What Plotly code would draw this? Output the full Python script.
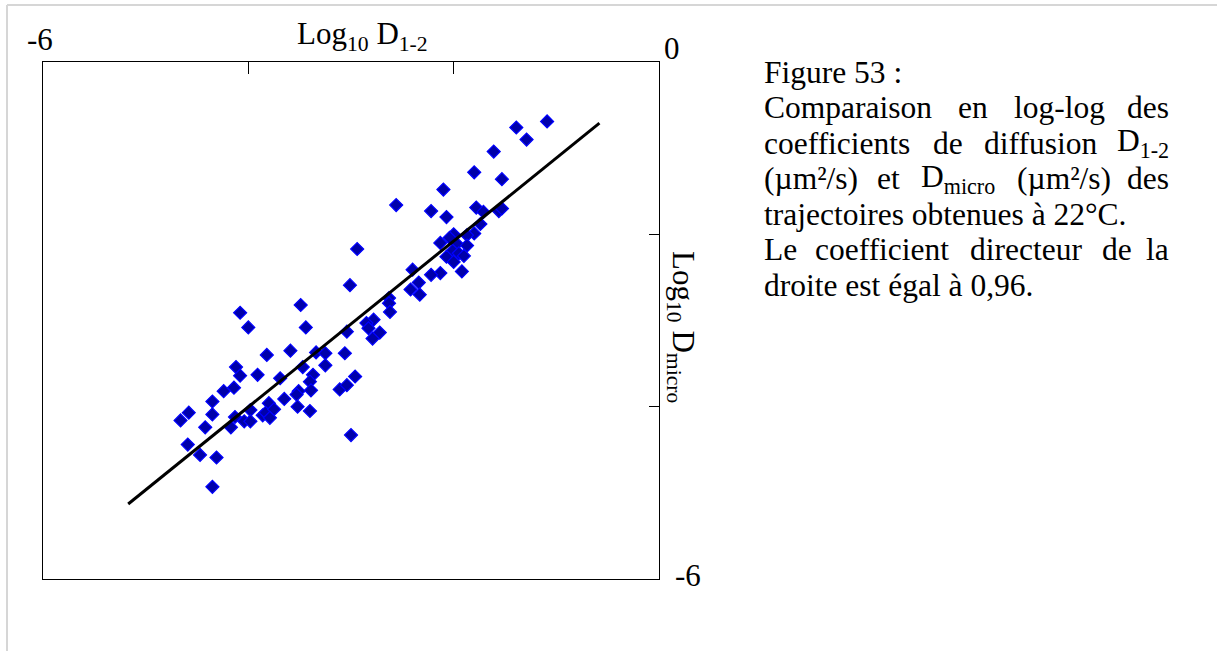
import plotly.graph_objects as go

# ---- data (log10 values) ----
d12 = [-1.09, -1.39, -1.29, -1.61, -1.80, -1.53, -2.10, -2.56, -2.22, -1.78,
       -1.71, -1.56, -1.53, -2.07, -1.74, -1.80, -1.87, -2.00, -2.04, -2.13,
       -1.97, -1.87, -2.01, -1.95, -2.07, -1.90, -2.00, -1.92, -2.13, -2.22,
       -2.40, -2.34, -2.42, -2.33, -2.63, -2.63, -2.62, -2.78, -2.85, -2.83,
       -2.72, -2.79, -2.94, -3.01, -3.04, -3.06, -4.08, -3.49, -4.00, -3.44,
       -3.82, -3.59, -3.34, -3.25, -4.12, -4.08, -3.91, -3.69, -3.47, -3.25,
       -3.37, -3.40, -3.39, -3.51, -3.53, -3.65, -3.52, -3.40, -3.11, -3.04,
       -2.96, -3.00, -4.14, -4.24, -4.35, -4.35, -4.58, -4.66, -4.42, -4.13,
       -4.17, -4.04, -3.98, -3.98, -3.86, -3.83, -3.80, -3.75, -3.79, -4.59,
       -4.47, -4.31, -4.35]
dmicro = [-0.69, -0.76, -0.90, -1.04, -1.28, -1.36, -1.48, -1.66, -1.73, -1.69,
          -1.74, -1.73, -1.70, -1.80, -1.88, -1.99, -2.01, -2.00, -2.04, -2.10,
          -2.11, -2.13, -2.19, -2.22, -2.26, -2.25, -2.32, -2.43, -2.45, -2.47,
          -2.41, -2.56, -2.64, -2.70, -2.74, -2.80, -2.90, -2.99, -3.03, -3.09,
          -3.14, -3.21, -2.17, -2.59, -3.13, -3.38, -2.91, -2.82, -3.08, -3.08,
          -3.40, -3.35, -3.37, -3.38, -3.54, -3.64, -3.63, -3.67, -3.54, -3.52,
          -3.63, -3.71, -3.81, -3.82, -3.86, -3.91, -4.00, -4.05, -3.80, -3.75,
          -3.65, -4.33, -3.78, -3.82, -3.94, -4.09, -4.07, -4.16, -4.24, -4.12,
          -4.24, -4.17, -4.04, -4.17, -4.10, -4.07, -3.96, -4.03, -4.13, -4.44,
          -4.56, -4.59, -4.93]
fit_x = [-5.17, -0.58]
fit_y = [-5.13, -0.71]
axis_range = [-6, 0]
x_ticks = [-4, -2]
y_ticks = [-4, -2]

SERIF = "Liberation Serif, Times New Roman, serif"
W, H = 1217, 651
L, R, T, B = 43, 659, 62, 579


def px(x):
    return (x - L) / (R - L)


def py(y):
    return (B - y) / (B - T)


fig = go.Figure()
fig.add_trace(go.Scatter(
    x=d12, y=dmicro, mode="markers",
    marker=dict(symbol="diamond", size=10, color="#0000AA",
                line=dict(color="#0000FF", width=1.2)),
    showlegend=False, hoverinfo="skip"))
fig.add_trace(go.Scatter(
    x=fit_x, y=fit_y, mode="lines",
    line=dict(color="black", width=3),
    showlegend=False, hoverinfo="skip"))

ann = []
def text(t, x, y, size=31, xa="center", ya="middle", angle=0):
    ann.append(dict(text=t, x=px(x), y=py(y), xref="paper", yref="paper",
                    xanchor=xa, yanchor=ya, showarrow=False, textangle=angle,
                    font=dict(family=SERIF, size=size, color="black")))

# axis end labels and titles
text("-6", 40, 40)
text("0", 672, 48)
text("-6", 688, 575)
text("Log<sub>10</sub> D<sub>1-2</sub>", 362, 36)
text("Log<sub>10</sub> D<sub>micro</sub>", 681, 327, angle=90)

# caption paragraph (justified lines built word by word)
FS = 31.5
LX, RX = 762, 1171
lines_y = [72, 107.5, 143, 178.5, 214, 249.5, 285]
text("Figure 53 :", LX, lines_y[0], FS, "left")
for w, x in [("Comparaison", LX), ("en", 956), ("log-log", 1011.5)]:
    text(w, x, lines_y[1], FS, "left")
text("des", RX, lines_y[1], FS, "right")
for w, x in [("coefficients", LX), ("de", 931), ("diffusion", 982)]:
    text(w, x, lines_y[2], FS, "left")
text("D<sub>1-2</sub>", RX, lines_y[2], FS, "right")
for w, x in [("(µm²/s)", LX), ("et", 875), ("D<sub>micro</sub>", 918.5), ("(µm²/s)", 1014.5)]:
    text(w, x, lines_y[3], FS, "left")
text("des", RX, lines_y[3], FS, "right")
text("trajectoires obtenues à 22°C.", LX, lines_y[4], FS, "left")
for w, x in [("Le", LX), ("coefficient", 813), ("directeur", 967.5), ("de", 1099.5)]:
    text(w, x, lines_y[5], FS, "left")
text("la", RX, lines_y[5], FS, "right")
text("droite est égal à 0,96.", LX, lines_y[6], FS, "left")

axis_common = dict(range=axis_range, showgrid=False, zeroline=False,
                   showline=True, mirror=True, linecolor="black", linewidth=1,
                   ticks="inside", tickcolor="black", tickwidth=1,
                   showticklabels=False)

fig.update_layout(
    width=W, height=H,
    margin=dict(l=L, r=W - R, t=T, b=H - B, pad=0),
    paper_bgcolor="white", plot_bgcolor="white",
    xaxis=dict(side="top", tickvals=x_ticks, ticklen=12, **axis_common),
    yaxis=dict(side="right", tickvals=y_ticks, ticklen=10, **axis_common),
    annotations=ann,
    shapes=[
        dict(type="line", xref="paper", yref="paper",
             x0=px(7), x1=px(7), y0=py(5), y1=py(H), line=dict(color="#D6D6D6", width=2)),
        dict(type="line", xref="paper", yref="paper",
             x0=px(7), x1=px(W), y0=py(5), y1=py(5), line=dict(color="#D6D6D6", width=2)),
    ],
)

fig.write_html("out.html", config={"displayModeBar": False},
               post_script="document.body.style.margin='0px';document.body.style.overflow='hidden';")
